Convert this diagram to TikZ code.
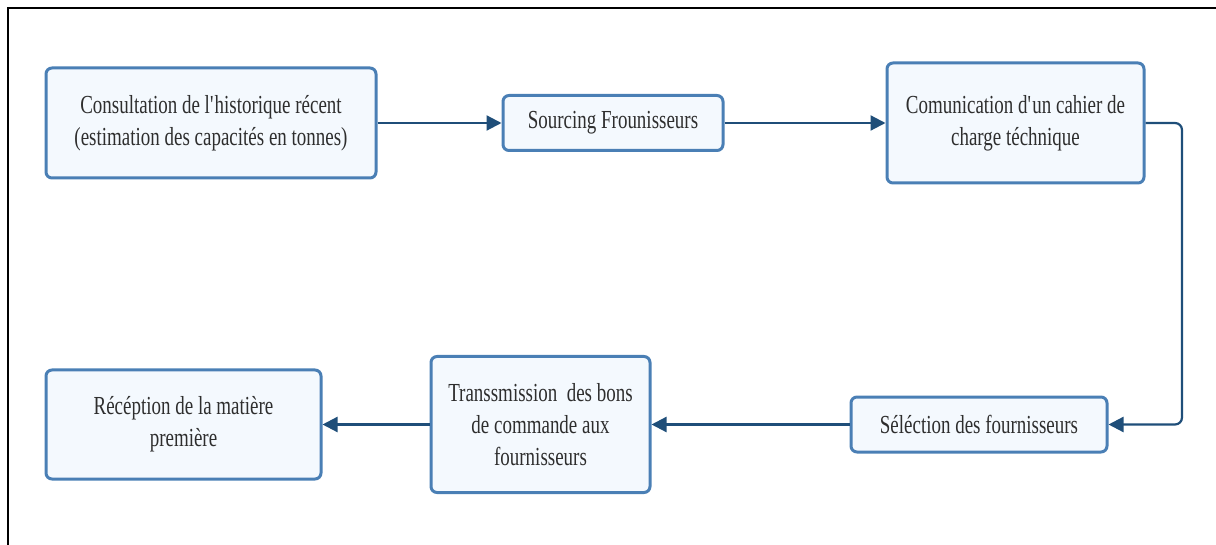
\documentclass[tikz,border=0pt]{standalone}
\usepackage{fontspec}
\setmainfont{Liberation Serif}[FakeStretch=0.73]
\usetikzlibrary{arrows.meta}
\definecolor{boxline}{HTML}{4A7FB5}
\definecolor{boxfill}{HTML}{F4F9FE}
\definecolor{flow}{HTML}{1F4E79}
\definecolor{label}{HTML}{2E2E2E}
\tikzset{
  stepbox/.style={draw=boxline, fill=boxfill, line width=3pt, rounded corners=6pt,
    align=center, text=label, font=\fontsize{26}{32}\selectfont, inner sep=0pt},
  flowarrow/.style={draw=flow, line width=2.2pt,
    -{Triangle[length=15pt,width=15pt]}},
}
\begin{document}
\begin{tikzpicture}[x=1pt,y=-1pt]
\useasboundingbox (0,0) rectangle (1216,545);
% outer frame, top and left edges
\draw[line width=2.5pt, black] (1216,8) -- (8,8) -- (8,545);

% upper row
\node[stepbox, minimum width=330pt, minimum height=110pt] (b1) at (211,123)
  {Consultation de l\textquotesingle historique récent\\(estimation des capacités en tonnes)};
\node[stepbox, minimum width=220pt, minimum height=55pt] (b2) at (613,123)
  {Sourcing Frounisseurs};
\node[stepbox, minimum width=257pt, minimum height=120pt] (b3) at (1015.5,123)
  {Comunication d\textquotesingle un cahier de\\charge téchnique};

% lower row
\node[stepbox, minimum width=256pt, minimum height=55pt] (b4) at (979,424.5)
  {Séléction des fournisseurs};
\node[stepbox, minimum width=219pt, minimum height=136pt] (b5) at (540.5,424.5)
  {Transsmission\ \ des bons\\de commande aux\\fournisseurs};
\node[stepbox, minimum width=275pt, minimum height=109pt] (b6) at (183.5,424.5)
  {Récéption de la matière\\première};

% connectors
\coordinate (turn) at (1182,123);
\draw[flowarrow] (b1.east) -- (b2.west);
\draw[flowarrow] (b2.east) -- (b3.west);
\draw[flowarrow, rounded corners=7pt] (b3.east) -- (turn) |- (b4.east);
\draw[flowarrow] (b4.west) -- (b5.east);
\draw[flowarrow] (b5.west) -- (b6.east);
\end{tikzpicture}
\end{document}
